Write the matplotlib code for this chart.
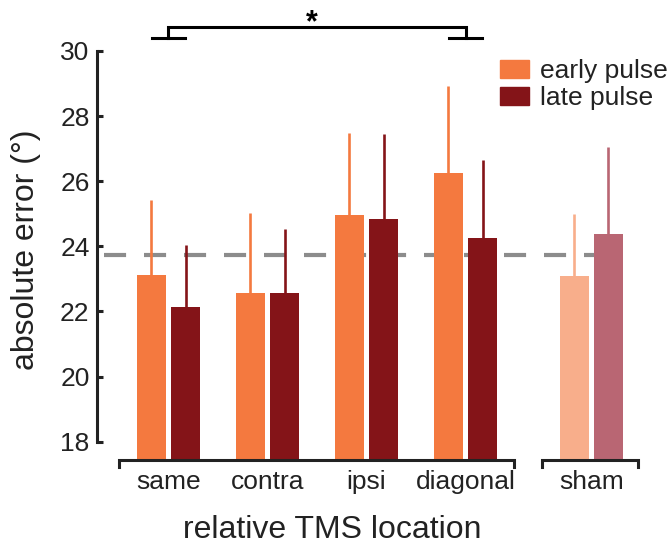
import numpy as np
import matplotlib
matplotlib.use("Agg")
import matplotlib.pyplot as plt
from matplotlib.patches import Patch

plt.rcParams['font.family'] = ['Liberation Sans', 'DejaVu Sans']

# data
locations = ["same", "contra", "ipsi", "diagonal", "sham"]
early_mean = [23.12, 22.57, 24.96, 26.25, 23.09]
late_mean = [22.13, 22.57, 24.84, 24.26, 24.37]
early_err = [2.30, 2.45, 2.52, 2.68, 1.91]
late_err = [1.91, 1.96, 2.61, 2.39, 2.68]
sham_baseline = 23.73
x_pos = [0, 1, 2, 3, 4.27]

early_colors = ["#F4793F", "#F4793F", "#F4793F", "#F4793F", "#F8AE8B"]
late_colors = ["#841418", "#841418", "#841418", "#841418", "#B96673"]
dark = "#222222"

fig = plt.figure(figsize=(6.72, 5.44), dpi=100)
ax = fig.add_axes([0.1255, 0.1535, 0.8545, 0.7528])

ymin = 17.42
width = 0.29
off = 0.172
x = np.array(x_pos)

# baseline (dashed)
ax.plot([-0.65, 4.4], [sham_baseline, sham_baseline], color="#8c8c8c", lw=3,
        dashes=(5.3, 4.3), zorder=1)

# bars + upward-only error lines
for i in range(len(locations)):
    ax.bar(x[i] - off, early_mean[i], width=width, color=early_colors[i], zorder=2)
    ax.bar(x[i] + off, late_mean[i], width=width, color=late_colors[i], zorder=2)
    ax.plot([x[i] - off] * 2, [early_mean[i], early_mean[i] + early_err[i]],
            color=early_colors[i], lw=1.9, solid_capstyle='butt', zorder=2)
    ax.plot([x[i] + off] * 2, [late_mean[i], late_mean[i] + late_err[i]],
            color=late_colors[i], lw=1.9, solid_capstyle='butt', zorder=2)

ax.set_xlim(-0.85, 4.95)
ax.set_ylim(ymin, 30)

# axes styling
for s in ["top", "right", "bottom"]:
    ax.spines[s].set_visible(False)
ax.spines["left"].set_position(("data", -0.72))
ax.spines["left"].set_bounds(18, 30)
ax.spines["left"].set_linewidth(2.2)
ax.spines["left"].set_color(dark)
ax.set_yticks([18, 20, 22, 24, 26, 28, 30])
ax.tick_params(axis="y", direction="in", length=4, width=2.2, color=dark,
               labelsize=19, labelcolor=dark, pad=5.5)
ax.set_xticks(x_pos)
ax.set_xticklabels(locations)
ax.tick_params(axis="x", length=0, labelsize=19, labelcolor=dark, pad=7)

# bottom brackets
y_br = 17.42
y_foot = 17.22
for a, b in [(-0.5, 3.49), (3.77, 4.74)]:
    ax.plot([a, a, b, b], [y_foot, y_br, y_br, y_foot], color=dark, lw=2.2,
            clip_on=False, solid_joinstyle='miter', zorder=3)

# significance bracket
ax.plot([-0.17, 0.17], [30.39, 30.39], color="black", lw=2.2, clip_on=False)
ax.plot([2.83, 3.17], [30.39, 30.39], color="black", lw=2.2, clip_on=False)
ax.plot([0, 0, 3, 3], [30.39, 30.73, 30.73, 30.39], color="black", lw=2.2,
        clip_on=False, solid_joinstyle='miter')
ax.text(1.45, 30.6, "*", ha="center", va="baseline", fontsize=22,
        fontweight="bold", color="black")

# legend
handles = [Patch(color=early_colors[0], label="early pulse"),
           Patch(color=late_colors[0], label="late pulse")]
fig.legend(handles=handles, loc="upper left", bbox_to_anchor=(500 / 672, 1 - 59 / 544),
           frameon=False, fontsize=19, handlelength=1.1, handleheight=0.65,
           handletextpad=0.42, labelspacing=0.12, borderpad=0, borderaxespad=0,
           labelcolor=dark)

# axis labels
fig.text(26 / 672, 1 - 250 / 544, "absolute error (°)", rotation=90, ha="center",
         va="center", fontsize=23, color=dark)
fig.text(332.5 / 672, 1 - 538 / 544, "relative TMS location", ha="center",
         va="baseline", fontsize=23, color=dark)

fig.savefig("out.png", dpi=100)
